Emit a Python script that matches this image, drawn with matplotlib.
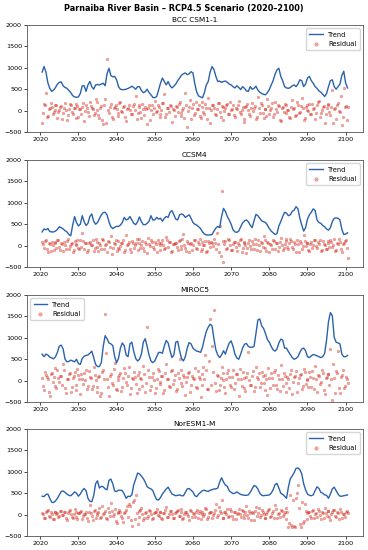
import numpy as np
import matplotlib.pyplot as plt

# modelos
modelos = ['BCC CSM1-1', 'CCSM4', 'MIROC5', 'NorESM1-M']

# tendencia (valores a cada meio ano, 2020.5 -> 2100.5)
trend_bcc = [
    900, 1030, 900, 650, 520, 450, 480, 540, 620, 660,
    670, 580, 540, 520, 470, 420, 350, 320, 310, 320,
    400, 580, 580, 450, 600, 680, 560, 500, 600, 610,
    600, 620, 640, 580, 860, 990, 820, 790, 800, 720,
    560, 500, 490, 490, 500, 520, 540, 570, 540, 500,
    560, 560, 470, 420, 440, 500, 420, 370, 310, 300,
    330, 480, 640, 760, 680, 600, 680, 580, 530, 570,
    620, 700, 760, 830, 860, 880, 840, 860, 910, 880,
    620, 430, 340, 320, 300, 420, 600, 680, 900, 1030,
    960, 800, 680, 690, 660, 680, 690, 660, 620, 600,
    560, 530, 580, 540, 490, 560, 520, 460, 450, 560,
    500, 520, 570, 480, 430, 400, 380, 370, 420, 490,
    600, 700, 850, 950, 990, 800, 700, 560, 530, 520,
    540, 580, 600, 560, 620, 720, 700, 560, 620, 760,
    800, 700, 640, 560, 520, 460, 430, 380, 330, 400,
    560, 700, 720, 560, 500, 560, 620, 820, 920, 640,
    530]
trend_ccsm = [
    320, 390, 370, 400, 330, 320, 320, 340, 380, 440,
    420, 390, 350, 320, 260, 230, 480, 680, 540, 460,
    500, 700, 560, 470, 520, 680, 740, 570, 500, 540,
    630, 720, 770, 780, 720, 560, 440, 400, 430, 450,
    450, 480, 540, 660, 600, 620, 680, 600, 520, 490,
    560, 670, 560, 490, 490, 520, 570, 700, 600, 600,
    660, 620, 640, 570, 640, 680, 660, 780, 820, 720,
    620, 600, 720, 740, 720, 660, 690, 720, 640, 540,
    500, 480, 440, 400, 320, 270, 250, 250, 250, 260,
    340, 410, 450, 420, 680, 870, 800, 680, 600, 500,
    370, 320, 310, 340, 440, 530, 580, 600, 560, 480,
    420, 580, 730, 700, 640, 580, 560, 540, 480, 400,
    340, 300, 260, 280, 460, 560, 680, 780, 760, 700,
    720, 800, 830, 910, 860, 640, 480, 340, 420, 620,
    720, 780, 860, 820, 600, 540, 520, 470, 440, 390,
    360, 420, 560, 640, 650, 640, 600, 380, 260, 270,
    300]
trend_miroc = [
    620, 560, 620, 600, 550, 530, 510, 560, 660, 810,
    830, 740, 500, 440, 450, 480, 460, 440, 500, 400,
    380, 520, 570, 590, 600, 640, 690, 540, 380, 330,
    330, 420, 800, 1050, 980, 880, 860, 820, 560, 420,
    520, 760, 880, 820, 600, 560, 860, 900, 680, 520,
    460, 500, 620, 900, 980, 800, 600, 460, 420, 460,
    560, 660, 660, 640, 810, 940, 880, 700, 540, 600,
    900, 920, 700, 520, 460, 560, 760, 890, 860, 760,
    720, 690, 680, 660, 780, 980, 1150, 1250, 1320, 1280,
    980, 720, 600, 540, 600, 700, 620, 760, 880, 930,
    800, 620, 530, 500, 620, 760, 850, 870, 800, 780,
    780, 800, 1100, 1420, 1440, 1280, 1220, 1100, 960, 900,
    800, 720, 690, 740, 880, 970, 950, 760, 760, 680,
    610, 540, 500, 520, 560, 660, 740, 760, 700, 560,
    540, 580, 610, 600, 580, 560, 540, 560, 640, 950,
    1380, 1590, 1520, 1010, 900, 880, 860, 620, 560, 560,
    590]
trend_nor = [
    430, 420, 470, 480, 380, 290, 280, 320, 380, 460,
    540, 550, 520, 480, 450, 440, 480, 530, 500, 430,
    480, 560, 610, 560, 380, 310, 300, 440, 720, 790,
    620, 660, 650, 600, 580, 800, 830, 720, 550, 540,
    570, 570, 560, 480, 380, 430, 420, 460, 700, 830,
    970, 950, 900, 840, 760, 650, 620, 600, 560, 440,
    350, 340, 400, 480, 540, 600, 640, 560, 480, 460,
    440, 450, 460, 440, 440, 520, 600, 610, 570, 530,
    440, 420, 480, 520, 560, 570, 550, 540, 570, 580,
    600, 600, 620, 760, 860, 760, 690, 660, 560, 520,
    490, 500, 530, 500, 470, 460, 450, 450, 460, 520,
    600, 680, 660, 600, 500, 450, 440, 450, 450, 460,
    500, 580, 700, 730, 620, 500, 470, 430, 380, 640,
    840, 900, 980, 1080, 1090, 1050, 950, 720, 580, 480,
    450, 440, 460, 560, 650, 610, 520, 500, 460, 450,
    380, 480, 600, 640, 560, 480, 430, 430, 440, 450,
    460]

# residuos (meio ano, 2020.5 -> 2100.5)
res_bcc = [
    -280, 150, 420, -120, 60, 90, -30, 140, -180, 20,
    110, -60, 180, -220, 40, 120, -90, 70, 160, -140,
    30, 90, -250, 130, -40, 210, 60, -110, 280, 10,
    -170, 100, -320, 260, 1200, -60, 150, -200, 80, 40,
    -130, 190, -40, 110, -240, 70, 20, -90, 160, 350,
    -60, 120, -180, 40, 90, -310, 140, 10, -70, 230,
    -20, 80, -150, 170, 380, -90, 50, 130, -260, 20,
    100, -40, 190, -120, 60, 420, -380, 90, -200, 150,
    -60, 30, 120, -170, 210, -80, 50, 290, -300, 140,
    70, -110, 180, -30, 100, -230, 60, 150, -90, 20,
    130, -160, 40, 230, -70, 90, -260, 110, 10, -120,
    170, 60, -200, 320, -50, 120, -180, 40, 260, -90,
    50, -140, 190, -30, 110, -250, 80, 150, -60, 20,
    -170, 240, 70, -100, 130, -40, 300, -220, 90, 10,
    160, -80, 40, -190, 120, 230, -60, 90, -280, 50,
    140, -110, 470, 30, -200, 180, -40, -330, 520, 100,
    80]
res_ccsm = [
    80, -60, 120, -140, 30, 90, -100, 50, 140, -30,
    60, -120, 20, 110, -80, 40, -150, 100, 10, -60,
    130, 300, -70, 50, -110, 90, 20, -130, 160, -40,
    70, -90, 120, 10, -160, 80, 220, -50, 40, -120,
    100, -20, 60, -140, 250, 30, -90, 110, -50, 70,
    -110, 150, 20, -60, 90, -170, 40, 120, -30, 80,
    -150, 60, 10, 130, -80, 200, -40, 90, -120, 30,
    70, -100, 140, -20, 280, -60, 100, -140, 50, 10,
    120, -70, 40, -130, 90, 20, -160, 110, -40, 60,
    150, -90, 30, 450, 1280, -380, 100, -60, 130, -110,
    40, 90, -130, 20, 160, -50, 80, -170, 60, -20,
    110, -80, 30, 140, -120, 50, 220, -60, 90, -140,
    20, 130, -90, 60, -30, 170, -110, 40, 100, -70,
    150, -40, 80, -150, 30, 110, -80, 260, -20, 60,
    -120, 90, 10, 140, -60, 40, -130, 100, 20, -90,
    70, 120, -40, 160, -100, 30, 80, -160, 50, 130,
    -300]
res_miroc = [
    60, -220, 130, 40, -350, 180, 90, -130, 250, -40,
    110, 380, -180, 30, 160, -260, 70, 200, -90, 130,
    -310, 50, 170, 240, -120, 90, -200, 310, 20, -150,
    120, -280, 260, 1550, 30, -360, 150, -100, 420, -230,
    80, 190, -140, 290, -40, 110, -320, 60, 210, -70,
    140, -190, 30, 350, -260, 1250, 90, -120, 180, -300,
    50, 230, -80, 120, -210, 380, 40, -150, 260, 10,
    -240, 170, 500, -60, 140, -330, 90, 200, -110, 60,
    300, -170, 80, -380, 160, 40, 240, -200, 1450, 800,
    1650, -250, 110, -90, 330, 20, -300, 190, 80, -140,
    250, -60, 150, -350, 40, 210, -180, 90, 680, -100,
    120, -240, 310, 30, -150, 200, -60, 140, -330, 70,
    180, -90, 260, -200, 50, 370, -130, 100, -270, 30,
    160, -310, 90, 220, -50, 130, -190, 280, -80, 40,
    200, -150, 60, 340, -260, 110, -40, 190, -320, 80,
    150, 740, -450, 60, 220, 700, -280, 130, -170, 90,
    -60]
res_nor = [
    40, -80, 60, 110, -60, 20, -110, 70, 30, -40,
    90, -20, 50, -130, 80, 10, -90, 140, -50, 30,
    70, -100, 20, 60, -140, 220, -30, 90, -70, 40,
    150, -60, 10, 80, -110, 50, 260, -30, 120, -200,
    30, 70, -90, 40, 110, -50, 190, -260, 350, 450,
    -220, 80, 150, -120, 40, -70, 100, 20, -90, 60,
    120, -40, 70, -110, 30, 180, -60, 90, 10, -80,
    50, 100, -30, 140, -90, 60, 20, -120, 80, 40,
    -60, 110, 30, -100, 70, 10, 130, -50, 60, -90,
    40, 250, -20, 90, 330, -70, 50, 120, -30, 80,
    -110, 60, 20, 140, -60, 90, -20, 200, -80, 30,
    70, -120, 180, 40, -50, 100, 10, -90, 60, 130,
    -40, 80, 220, -70, 30, 110, -30, 60, 150, -280,
    450, -300, -260, 380, 700, -220, 300, -150, 90, 30,
    60, -80, 110, 20, -50, 90, -100, 40, 160, -30,
    80, -120, 50, 100, -60, 30, 140, -90, 20, 70,
    40]

# residuos intercalados (2020.75 -> 2100.25)
res_bcc_b = [
    -60, 120, -150, 40, 180, -90, 10, 130, -40, 90,
    -200, 70, 20, -110, 150, -30, 60, -170, 100, 40,
    -80, 170, -20, 60, -130, 110, 30, -60, 190, -100,
    50, -230, 140, -300, 20, 90, -150, 60, 120, -50,
    170, -20, 80, -160, 40, 130, -70, 100, 20, -190,
    90, -40, 160, -110, 30, 70, -220, 120, 50, -30,
    140, -90, 20, 180, -150, 60, -40, 110, 30, -120,
    80, 160, -50, 20, -180, 130, -20, 240, 70, -100,
    190, 40, -130, 90, -30, 150, -200, 60, 10, 120,
    -70, 30, 170, -140, 80, -20, 120, -90, 200, 40,
    -110, 60, 140, -40, 20, -190, 90, 160, -80, 50,
    -20, 110, -150, 70, 180, -60, 30, -130, 100, 10,
    170, -90, 40, 120, -210, 60, -30, 140, 20, -160,
    80, 30, -120, 190, -50, 100, 60, -180, 130, -10,
    -90, 150, 50, -60, 210, -140, 20, 110, -70, 160,
    -40, 90, -280, 60, 130, -20, 350, -150, 80, -220]
res_ccsm_b = [
    30, 110, -90, 60, -130, 20, 80, -50, 120, -100,
    40, 90, -70, 150, -20, 60, -110, 30, 130, -80,
    -40, 100, 50, -150, 70, 10, 140, -60, 90, -120,
    20, 160, -90, 40, 100, -30, -200, 70, 130, -60,
    -80, 50, 120, -100, 20, 90, -140, 60, 10, 150,
    70, -60, 110, -130, 40, 180, -20, 80, -90, 30,
    120, -110, 50, 20, -60, 140, 90, -150, 30, 70,
    -30, 100, -80, 160, 20, -120, 60, 40, -100, 130,
    -50, 90, 150, -70, 10, 110, -130, 50, 80, -20,
    60, 300, -140, -250, 100, 40, -80, 150, 20, -110,
    90, -30, 60, 130, -150, 70, 20, -60, 120, -90,
    40, 160, -100, 10, 80, -40, 130, -120, 60, 30,
    -70, 110, 50, -130, 90, 20, -60, 150, -30, 70,
    110, -90, 40, 130, -140, 60, -20, 100, 50, -100,
    30, -60, 140, -20, 80, 120, -110, 40, -70, 100,
    -40, 90, 20, -130, 60, 150, -80, 30, 110, -50]
res_miroc_b = [
    -120, 200, 80, -260, 150, -40, 300, -180, 70, 120,
    -90, 240, -300, 40, 190, -140, 100, -220, 270, 30,
    160, -80, 10, -190, 230, 60, -120, 140, -260, 90,
    -350, 200, 40, 650, -150, 110, -60, 280, -200, 20,
    130, -240, 70, 180, -100, 310, -170, 40, 90, -280,
    210, 60, -130, 150, -50, 240, -210, 80, 20, -160,
    270, -40, 110, -300, 190, 30, -120, 220, -80, 140,
    -190, 60, 250, -130, 80, -40, 170, -260, 100, 30,
    -150, 220, 40, -90, 330, 600, -200, 450, -100, 210,
    -60, 130, -230, 70, 180, -150, 40, 260, -110, 90,
    -200, 150, 30, 280, -120, 60, -250, 170, 20, -90,
    230, -140, 80, 190, -50, 120, -210, 40, 300, -160,
    60, 200, -100, 140, -240, 30, 170, -60, 90, -180,
    250, -30, 110, -270, 70, 160, -120, 200, 10, -140,
    90, 230, -190, 40, 130, -80, 260, -220, 60, 150,
    -100, 40, 400, -300, 180, -160, 80, 250, -120, 30]
res_nor_b = [
    20, -70, 90, -30, 50, -100, 60, 10, -50, 80,
    -20, 60, -90, 40, 110, -60, 20, 70, -110, 30,
    90, -40, 10, -80, 60, 30, -120, 100, -10, 50,
    -70, 200, 40, -90, 150, -40, 80, 20, -150, 60,
    100, -30, -180, 60, 200, 250, -120, 300, -100, 40,
    -60, 110, 20, -80, 50, -30, 90, -110, 40, 70,
    -20, 60, -90, 30, 100, -50, 10, 80, -70, 40,
    90, -30, 60, -100, 20, 70, -40, 110, -60, 10,
    50, -80, 90, 20, -40, 160, -110, 30, 70, -20,
    100, -60, 180, 40, -90, 60, 20, -50, 130, -30,
    70, -100, 40, 10, 110, -70, 50, -20, 90, -120,
    30, 80, -40, 160, -10, 60, -90, 20, 100, -50,
    40, -80, 120, 20, -60, 90, 10, -110, 70, -200,
    -250, 350, -300, 500, 150, -280, -200, 250, -100, 60,
    -40, 90, -70, 30, 120, -20, 60, -90, 40, 80,
    -60, 20, 100, -30, 50, -100, 70, 10, -50, 90]

tendencias = [trend_bcc, trend_ccsm, trend_miroc, trend_nor]
residuos = [res_bcc, res_ccsm, res_miroc, res_nor]
residuos_b = [res_bcc_b, res_ccsm_b, res_miroc_b, res_nor_b]
legenda_pos = ['upper right', 'upper right', 'upper left', 'upper right']

plt.rcParams['font.family'] = 'DejaVu Sans'
fig = plt.figure(figsize=(3.68, 5.5), dpi=100)
fig.suptitle('Parnaiba River Basin – RCP4.5 Scenario (2020–2100)',
             fontsize=5.9, fontweight='bold', y=0.993)

# posicoes dos paineis
bottoms = [0.760, 0.5145, 0.269, 0.0255]
for i in range(4):
    ax = fig.add_axes([0.073, bottoms[i], 0.913, 0.1945])
    tr = tendencias[i]
    rs = residuos[i] + residuos_b[i]
    anos_tr = np.linspace(2020.5, 2100.5, len(tr))
    anos_rs = np.concatenate([np.linspace(2020.5, 2100.5, len(residuos[i])),
                              np.linspace(2020.75, 2100.25, len(residuos_b[i]))])
    ax.plot(anos_tr, tr, color='#2b62ad', lw=1.0, label='Trend')
    ax.scatter(anos_rs, rs, s=4, color='red', alpha=0.38, lw=0.3,
               edgecolors='#8b3a1a', label='Residual')
    ax.set_title(modelos[i], fontsize=5.3, pad=2)
    ax.set_ylim(-500, 2000)
    ax.set_yticks([-500, 0, 500, 1000, 1500, 2000])
    ax.set_xticks(range(2020, 2101, 10))
    ax.tick_params(labelsize=4.6, length=2, width=0.5, pad=1.5)
    for s in ax.spines.values():
        s.set_linewidth(0.6)
        s.set_color('#555555')
    ax.legend(loc=legenda_pos[i], fontsize=4.8, frameon=True, markerscale=1.3,
              handlelength=2.0, borderpad=0.5, labelspacing=0.5)

plt.savefig('out.png', dpi=100)
